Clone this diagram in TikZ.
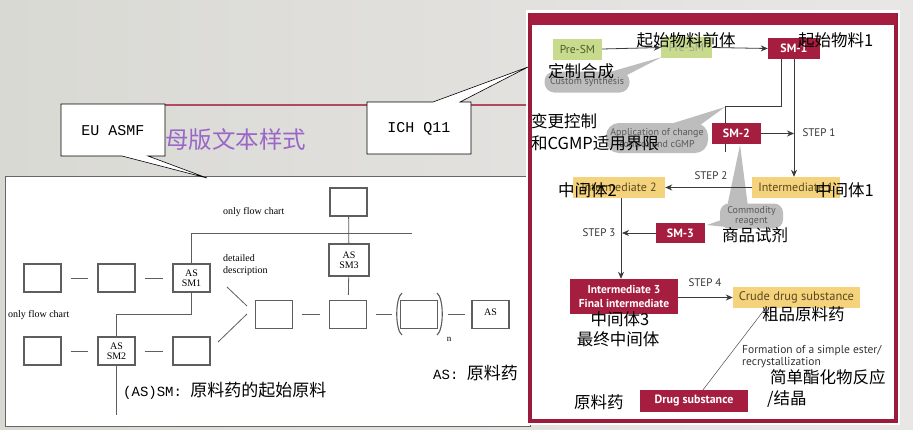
\documentclass[tikz,border=0pt]{standalone}
\usepackage{fontspec}
\setmainfont{Liberation Serif}
\newfontfamily\cjk{Noto Sans CJK SC}
\newfontfamily\monof{Liberation Mono}
\newfontfamily\psans{PT Sans}
\usetikzlibrary{arrows.meta}
\definecolor{bgl}{HTML}{D9D9D4}
\definecolor{bgr}{HTML}{E9E7E6}
\definecolor{smred}{HTML}{A51E3F}
\definecolor{framered}{HTML}{9A1C3A}
\definecolor{titlered}{HTML}{B04A60}
\definecolor{titlepurple}{HTML}{9A66C8}
\definecolor{smgreen}{HTML}{C8DB8C}
\definecolor{smyellow}{HTML}{F5D27C}
\definecolor{gtext}{HTML}{4F5A2C}
\definecolor{ytext}{HTML}{5A4A20}
\definecolor{bgray}{HTML}{BDBDBD}
\definecolor{lgray}{HTML}{5E5E5E}
\definecolor{rline}{HTML}{3A3A3A}
\begin{document}
\begin{tikzpicture}[x=1pt,y=-1pt,
  lbox/.style={draw=lgray, line width=1.1pt, fill=white, minimum width=37pt, minimum height=28pt, inner sep=0pt, font=\fontsize{10}{10}\selectfont, align=center},
  lline/.style={draw=lgray, line width=0.8pt},
  ltext/.style={font=\fontsize{10}{12}\selectfont, inner sep=0pt, align=left},
  gbox/.style={fill=smgreen, text=gtext, font=\psans\fontsize{11.5}{12}\selectfont, minimum width=49pt, minimum height=21pt, inner sep=0pt},
  ybox/.style={fill=smyellow, text=ytext, font=\psans\fontsize{12}{13}\selectfont, minimum height=21pt, inner sep=0pt},
  rbox/.style={fill=smred, text=white, font=\psans\bfseries\fontsize{12}{14}\selectfont, minimum height=21pt, inner sep=0pt, align=center},
  bubble/.style={fill=bgray, text=black!65, font=\psans\fontsize{10}{10}\selectfont, inner sep=0pt, align=center},
  steplabel/.style={font=\psans\fontsize{11}{12}\selectfont, text=black!80, inner sep=0pt},
  rl/.style={draw=rline, line width=0.8pt},
  arr/.style={draw=rline, line width=0.8pt, -{Stealth[length=7pt,width=6pt]}},
  zh/.style={font=\cjk\fontsize{16.5}{18}\selectfont, inner sep=0pt, text=black},
  callout/.style={draw=black, line width=0.6pt, fill=white}
]
\useasboundingbox (0,0) rectangle (913,429);
% background
\shade[left color=bgl, right color=bgr] (0,0) rectangle (913,429);

% ---------- left panel ----------
\draw[draw=black!60, fill=white, line width=0.8pt] (5,176) rectangle (530,426);
\draw[draw=titlered, line width=1.5pt] (160,105) -- (530,105);
\node[font=\cjk\fontsize{23.5}{26}\selectfont, text=titlepurple, anchor=west, inner sep=0pt] (title) at (165,140) {母版文本样式};

\node[lbox] (Lt0) at (348.5,202) {};
\node[lbox, minimum width=40pt, minimum height=32pt] (Lsm3) at (349,260) {AS\\SM3};
\node[lbox] (La1) at (42.5,278) {};
\node[lbox] (La2) at (116.5,278) {};
\node[lbox] (Lsm1) at (191.5,278) {AS\\SM1};
\node[lbox] (Lb1) at (42.5,351) {};
\node[lbox] (Lsm2) at (116.5,351) {AS\\SM2};
\node[lbox] (Lb3) at (191.5,351) {};
\node[lbox] (Lc1) at (274,314.5) {};
\node[lbox] (Lc2) at (348,314.5) {};
\node[lbox] (Lc3) at (419,314.5) {};
\node[lbox] (Las) at (490.5,314.5) {\raisebox{4pt}{AS}};

\draw[lline, shorten <=9pt, shorten >=9pt] (La1) -- (La2);
\draw[lline, shorten <=9pt, shorten >=9pt] (La2) -- (Lsm1);
\draw[lline, shorten <=9pt, shorten >=9pt] (Lb1) -- (Lsm2);
\draw[lline, shorten <=9pt, shorten >=9pt] (Lsm2) -- (Lb3);
\draw[lline, shorten <=9pt, shorten >=8.5pt] (Lc1) -- (Lc2);
\draw[lline, shorten <=8.5pt, shorten >=7.5pt] (Lc2) -- (Lc3);
\draw[lline, shorten <=9.5pt, shorten >=6pt] (Lc3) -- (Las);

\draw[lline] (Lt0) -- (Lsm3);
\draw[lline, shorten >=5pt] (Lsm3) -- (Lc2);

\coordinate (h1) at (191.5,233);
\coordinate (h2) at (412,233);
\draw[lline] (h2) -- (h1) -- (Lsm1.north);
\coordinate (h3) at (116.5,314);
\draw[lline] (Lsm1.south) |- (h3) -- (Lsm2.north);
\coordinate (h4) at (116.5,415);
\draw[lline] (Lsm2.south) -- (h4);

\coordinate (d1) at (227,287);
\coordinate (d2) at (247,306);
\coordinate (d3) at (218,342);
\coordinate (d4) at (247,314);
\draw[lline] (d1) -- (d2);
\draw[lline] (d3) -- (d4);

% bracket
\draw[lline, line width=1.1pt] (402,293) .. controls (395,298) and (395,330) .. (402,335);
\draw[lline, line width=1.1pt] (437,293) .. controls (444,298) and (444,330) .. (437,335);
\node[ltext, font=\fontsize{9}{10}\selectfont] (nsub) at (449,339) {n};

\node[ltext, anchor=west] (of1) at (223,212) {only flow chart};
\node[ltext, anchor=west] (of2) at (8,315) {only flow chart};
\node[ltext, anchor=north west] (dd) at (223,254) {detailed\\description};

\node[anchor=west, inner sep=0pt] (smlabel) at (123,391) {{\monof\fontsize{14}{16}\selectfont (AS)SM:\ }{\cjk\fontsize{17}{18}\selectfont 原料药的起始原料}};
\node[anchor=west, inner sep=0pt] (aslabel) at (433,373) {{\monof\fontsize{14}{16}\selectfont AS:\ }{\cjk\fontsize{17}{18}\selectfont 原料药}};

% ---------- right panel ----------
\fill[white] (526,10) rectangle (900,425);
\draw[draw=framered, line width=3.5pt, fill=white] (530,15) rectangle (896,421);
\fill[smred] (530,13) rectangle (896,25);

% bubbles
\fill[bgray] (603,74) -- (662,57) -- (625,76) -- cycle;
\node[bubble, minimum width=85pt, minimum height=21pt, rounded corners=10pt] (Bcs) at (587,82) {Custom synthesis};
\fill[bgray] (664,126) -- (725,107) -- (696,128) -- cycle;
\node[bubble, minimum width=102pt, minimum height=30pt, rounded corners=13pt, font=\psans\fontsize{10}{11}\selectfont] (Bapp) at (657,138) {Application of change\\control and cGMP};
\fill[bgray] (727,207) -- (740,145) -- (748,207) -- cycle;
\fill[bgray] (724,219) -- (707,225) -- (726,227) -- cycle;
\node[bubble, minimum width=63pt, minimum height=25pt, rounded corners=9pt, font=\psans\fontsize{10}{10}\selectfont] (Bcom) at (751.5,216) {Commodity\\reagent};

% connector lines
\coordinate (k1) at (725,106);
\coordinate (k2) at (725,152);
\coordinate (s1) at (781,59);
\draw[rl] (s1) |- (k1) -- (k2);

% boxes
\node[gbox] (Rpre1) at (577.5,49) {Pre-SM};
\node[gbox, minimum width=51pt, text=gtext!55] (Rpre2) at (686.5,47.5) {Pre-SM};
\node[rbox, minimum width=52pt] (Rsm1) at (794,48.5) {SM-1};
\node[rbox, minimum width=49pt] (Rsm2) at (736.5,133.5) {SM-2};
\node[ybox, minimum width=88pt] (Rint1) at (796,187.5) {Intermediate 1};
\node[ybox, minimum width=92pt] (Rint2) at (619,187.5) {Intermediate 2};
\node[rbox, minimum width=49pt, minimum height=20pt] (Rsm3) at (680.5,233) {SM-3};
\node[rbox, minimum width=108pt, minimum height=35pt, font=\psans\bfseries\fontsize{11.5}{14}\selectfont] (Rint3) at (624,296.5) {Intermediate 3\\Final intermediate};
\node[ybox, minimum width=127pt, font=\psans\fontsize{12.5}{13}\selectfont] (Rcrude) at (796.5,297.5) {Crude drug substance};
\node[rbox, minimum width=108pt, minimum height=22pt] (Rdrug) at (694,401) {Drug substance};

% arrows
\draw[arr] (Rpre1.east) -- (Rpre2.west);
\draw[arr] (Rpre2.east) -- (Rsm1.west);
\draw[arr] (Rsm1.south) -- (Rsm1.south |- Rint1.north);
\draw[arr] (Rsm2.east) -- (Rsm1.south |- Rsm2.east);
\draw[arr] (Rint1.west) -- (Rint2.east);
\draw[arr] ([xshift=2pt]Rint2.south) -- ([xshift=2pt]Rint2.south |- Rint3.north);
\draw[arr] (Rsm3.west) -- ([xshift=3pt]Rint2.south |- Rsm3.west);
\draw[arr] (Rint3.east |- Rcrude.west) -- (Rcrude.west);
\draw[draw=black!70, line width=0.5pt] ([xshift=-31pt]Rcrude.south) -- ([xshift=9pt]Rdrug.north);

% step labels
\node[steplabel] (st1) at (819,133) {STEP 1};
\node[steplabel] (st2) at (711,176) {STEP 2};
\node[steplabel] (st3) at (599,233) {STEP 3};
\node[steplabel] (st4) at (705,283) {STEP 4};
\node[steplabel, anchor=north west, align=left, font=\psans\fontsize{11.5}{12.5}\selectfont] (form) at (742,345) {Formation of a simple ester/\\recrystallization};

% chinese overlays
\node[zh] (z1) at (686,40) {起始物料前体};
\node[zh, anchor=west] (z2) at (798,40) {起始物料1};
\node[zh, anchor=west] (z3) at (548,71) {定制合成};
\node[zh, anchor=west] (z4) at (531,121) {变更控制};
\node[zh, anchor=west] (z5) at (531,143) {和CGMP适用界限};
\node[zh, anchor=west] (z6) at (558,190) {中间体2};
\node[zh, anchor=west] (z7) at (815,190) {中间体1};
\node[zh, anchor=west] (z8) at (722,235) {商品试剂};
\node[zh] (z9) at (620,319) {中间体3};
\node[zh] (z10) at (618,339) {最终中间体};
\node[zh, anchor=west] (z11) at (762,314) {粗品原料药};
\node[zh, anchor=west] (z12) at (770,377) {简单酯化物反应};
\node[zh, anchor=west] (z13) at (767,399) {/结晶};
\node[zh, anchor=west] (z14) at (574,402) {原料药};

% ---------- callouts ----------
\draw[callout] (61,104) -- (165,104) -- (165,156) -- (148,156) -- (207,178) -- (122,156) -- (61,156) -- cycle;
\node[font=\monof\fontsize{15}{16}\selectfont, inner sep=0pt] (eu) at (113,131) {EU ASMF};
\draw[callout] (367,102) -- (433,102) -- (528,67) -- (460,102) -- (471,102) -- (471,154) -- (367,154) -- cycle;
\node[font=\monof\fontsize{15}{16}\selectfont, inner sep=0pt] (ich) at (419,129) {ICH Q11};
\end{tikzpicture}
\end{document}
